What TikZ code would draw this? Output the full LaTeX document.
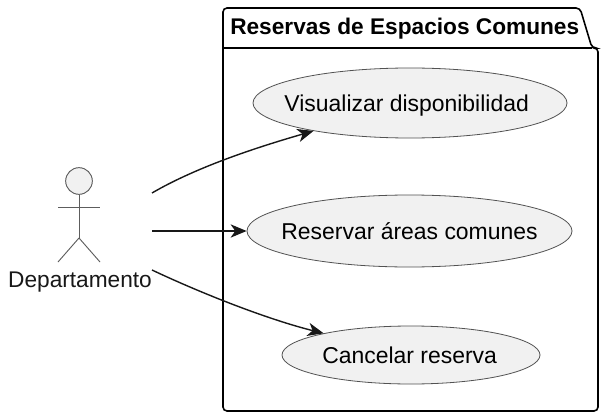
\documentclass[tikz,border=0pt]{standalone}
\usepackage{fontspec}
\setmainfont{Liberation Sans}
\usetikzlibrary{shapes.geometric,arrows.meta}
\definecolor{uc}{HTML}{F1F1F1}
\definecolor{ln}{HTML}{181818}
\newcommand{\uctext}[2][0pt]{\makebox[0pt]{\hspace*{#1}\raisebox{-6.2pt}[0pt][0pt]{#2}}}
\tikzset{x=0.75pt,y=-0.75pt,
 ucase/.style={ellipse,draw=ln!75,fill=uc,line width=0.6pt,inner sep=0pt,font=\fontsize{17.2}{20}\selectfont,text=black},
 conn/.style={draw=ln,line width=1.05pt,-{Stealth[length=12pt,width=10pt,inset=3.5pt]}},
 part/.style={draw=black,line width=1.2pt},
 act/.style={draw=ln!70,line width=0.7pt}}
\begin{document}
\begin{tikzpicture}
\useasboundingbox (0,0) rectangle (602,417);
\fill[white] (0,0) rectangle (602,417);
\draw[part,fill=white,rounded corners=3pt] (223,411) -- (223,8) -- (580,8) -- (592,48) -- (598,48) -- (598,411) -- cycle;
\draw[part] (223,48) -- (592,48);
\node[font=\bfseries\fontsize{17}{20}\selectfont,anchor=west,inner sep=0pt] (title) at (230,29) {Reservas de Espacios Comunes};
\node[ucase,minimum width=314*0.75pt,minimum height=70*0.75pt] (a) at (410,103) {\uctext[-5pt]{Visualizar disponibilidad}};
\node[ucase,minimum width=325*0.75pt,minimum height=72*0.75pt] (b) at (409.5,231) {\uctext{Reservar áreas comunes}};
\node[ucase,minimum width=258*0.75pt,minimum height=58*0.75pt] (c) at (411,355) {\uctext[-2pt]{Cancelar reserva}};
\node[circle,act,fill=uc,minimum size=20pt,inner sep=0pt] (head) at (79,181) {};
\coordinate (hip) at (79,238);
\coordinate (armL) at (58,207);
\coordinate (armR) at (100,207);
\coordinate (footL) at (58,262);
\coordinate (footR) at (100,262);
\draw[act] (head.south) -- (hip);
\draw[act] (armL) -- (armR);
\draw[act] (hip) -- (footL);
\draw[act] (hip) -- (footR);
\node[font=\fontsize{17}{20}\selectfont,inner sep=0pt,text=ln] (actor) at (80,282) {Departamento};
\coordinate (s1) at (152,193);
\coordinate (s2) at (152,231);
\coordinate (s3) at (152,270);
\draw[conn] (s1) .. controls (200,165) and (265,145) .. (a);
\draw[conn] (s2) -- (b);
\draw[conn] (s3) .. controls (205,295) and (270,320) .. (c);
\end{tikzpicture}
\end{document}
